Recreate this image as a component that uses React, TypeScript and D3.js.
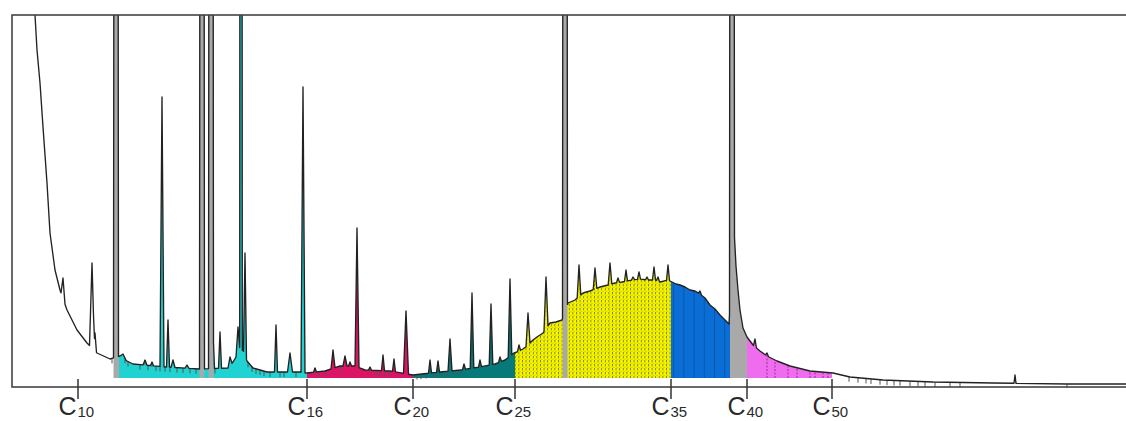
import React from "react";
import * as d3 from "d3";

const W = 1126;
const H = 421;

// unresolved envelope of the trace: [retention, response]
const envelope: [number, number][] = [
  [22, 528], [24, 363], [26, 328], [29, 295], [32, 251], [36, 195], [39, 145], [44, 108],
  [49, 88], [56, 68], [66, 48], [76, 35], [86, 25], [99, 19], [109, 22], [116, 17],
  [122, 14], [156, 11], [189, 9], [217, 10], [222, 16], [228, 26], [232, 28], [236, 17],
  [242, 10], [256, 6], [289, 6], [296, 5], [314, 7], [329, 12], [344, 12], [354, 8],
  [379, 7], [402, 3], [429, 6], [449, 8], [469, 11], [484, 14], [494, 18], [503, 25],
  [506, 26], [512, 29], [516, 32], [522, 38], [526, 41], [532, 45], [539, 55], [545, 56],
  [551, 58], [557, 75], [564, 78], [572, 85], [579, 87], [589, 91], [597, 93], [604, 95],
  [611, 96], [621, 98], [629, 99], [636, 98], [644, 98], [649, 96], [657, 98], [661, 96],
  [665, 94], [669, 93], [674, 91], [679, 88], [684, 87], [689, 84], [694, 80], [699, 73],
  [704, 69], [709, 63], [714, 58], [718, 54], [723, 150], [725, 112], [727, 88], [729, 68],
  [732, 50], [736, 41], [742, 33], [749, 27], [756, 22], [766, 17], [779, 12], [799, 7],
  [822, 5], [839, 1], [872, -2], [922, -4], [982, -5], [1056, -6], [1119, -6],
];

// resolved peaks: [retention, apex response, half width at base]
const peaks: [number, number, number][] = [
  [52, 100, 2], [81, 115, 2.5], [84, 45, 1.5], [105, 3000, 2.5], [112, 24, 3], [134, 18, 2],
  [141, 16, 1.5], [151, 281, 2], [157, 58, 1.5], [162, 18, 2], [176, 13, 2], [191, 3000, 2.5],
  [200, 3000, 2.5], [202, 48, 1.5], [209, 46, 1.5], [219, 21, 2], [227, 51, 2], [230, 3000, 1.3],
  [234, 125, 1.5], [265, 53, 1.5], [279, 25, 2.5], [292, 291, 2], [304, 10, 1.5], [322, 28, 2],
  [334, 22, 2], [339, 16, 1.5], [346, 150, 2], [359, 11, 1.5], [372, 23, 1.5], [383, 19, 1.5],
  [395, 67, 2.5], [419, 18, 1.5], [427, 17, 1.5], [439, 39, 2], [453, 14, 1.5], [461, 85, 1.8],
  [469, 18, 1.5], [480, 74, 1.8], [489, 21, 1.5], [499, 99, 1.8], [508, 33, 1.5], [517, 65, 2],
  [535, 101, 2], [554, 3000, 2.5], [568, 113, 1.8], [584, 110, 1.8], [599, 115, 1.8],
  [607, 100, 1.5], [615, 108, 1.5], [622, 101, 1.5], [628, 106, 1.5], [636, 101, 1.5],
  [643, 111, 1.5], [647, 101, 1.5], [657, 113, 1.5], [689, 87, 1.5], [721, 3000, 2.5],
  [744, 39, 1.5], [756, 25, 1.5], [1004, 3, 1],
];

// integrated carbon ranges: [start, end, fill]
const regions: [number, number, string][] = [
  [108, 296, "#20d2d2"],
  [296, 402, "#dc1466"],
  [402, 504, "#057a78"],
  [504, 660, "url(#hatchYellow)"],
  [660, 719, "url(#hatchBlue)"],
  [719, 736, "#a9a9a9"],
  [736, 821, "#ef6cef"],
];
// internal standards, shaded grey
const standards: [number, number][] = [
  [102.5, 108], [188.5, 193.5], [197.5, 202.5], [551.5, 556.5],
];

const carbonNumbers = ["10", "16", "20", "25", "35", "40", "50"];
const carbonTimes = [67, 296, 402, 504, 660, 736, 821];

const eventMarks = [
  101, 106, 114, 117, 129, 134, 137, 141, 145, 149, 154, 159, 166, 172, 179, 185, 204, 237,
  241, 245, 249, 253, 259, 269, 273, 285, 304, 307, 314, 330, 359, 365, 369, 374, 378, 406,
  410, 415, 424, 431, 436, 442, 449, 838, 847, 855, 860, 869, 876, 883, 889, 899, 907, 914,
  924, 939, 949, 1056,
];
const dropLines = [756, 764, 777, 786, 799, 804, 812, 817];

const x = d3.scaleLinear().domain([0, 1115]).range([11, 1126]);
const y = d3.scaleLinear().domain([0, 363]).range([378, 15]);

const envAt = d3
  .scaleLinear()
  .domain(envelope.map((d) => d[0]))
  .range(envelope.map((d) => d[1]))
  .clamp(true);

function signal(t: number) {
  let v = envAt(t);
  for (const [pt, apex, w] of peaks) {
    const d = Math.abs(t - pt);
    if (d < w) v += (apex - envAt(pt)) * (1 - d / w);
  }
  return v;
}

const times = new Set<number>();
envelope.forEach((d) => times.add(d[0]));
peaks.forEach(([t, , w]) => {
  times.add(t - w);
  times.add(t);
  times.add(t + w);
});
const trace: [number, number][] = Array.from(times)
  .sort((a, b) => a - b)
  .map((t) => [t, signal(t)]);

const line = d3
  .line<[number, number]>()
  .x((d) => x(d[0]))
  .y((d) => y(d[1]));
const area = d3
  .area<[number, number]>()
  .x((d) => x(d[0]))
  .y0(y(0))
  .y1((d) => y(d[1]));

const font = "Arial, 'Liberation Sans', Helvetica, sans-serif";

export default function App() {
  const areaPath = area(trace) || "";
  return (
    <svg
      width={W}
      height={H}
      style={{ position: "absolute", left: 0, top: 0, background: "#fff" }}
    >
      <defs>
        <clipPath id="plot">
          <rect x={12} y={15} width={W} height={373} />
        </clipPath>
        {regions.map(([a, b], i) => (
          <clipPath id={"reg" + i} key={i}>
            <rect x={x(a)} y={15} width={x(b) - x(a)} height={y(0) - 15} />
          </clipPath>
        ))}
        {standards.map(([a, b], i) => (
          <clipPath id={"std" + i} key={i}>
            <rect x={x(a)} y={15} width={x(b) - x(a)} height={y(0) - 15} />
          </clipPath>
        ))}
        <pattern id="hatchYellow" width={3.6} height={4} patternUnits="userSpaceOnUse">
          <rect width={3.6} height={4} fill="#f4f400" />
          <rect x={0} y={0} width={0.9} height={2.4} fill="#5a5a10" opacity={0.75} />
          <rect x={0.9} y={3} width={1.6} height={0.7} fill="#5a5a10" opacity={0.35} />
        </pattern>
        <pattern id="hatchBlue" width={10.2} height={6} patternUnits="userSpaceOnUse">
          <rect width={10.2} height={6} fill="#0a6ed6" />
          <rect x={0} y={0} width={1} height={6} fill="#0550a0" opacity={0.8} />
        </pattern>
      </defs>

      <g clipPath="url(#plot)">
        {regions.map(([, , fill], i) => (
          <path key={i} d={areaPath} fill={fill} clipPath={`url(#reg${i})`} />
        ))}
        {standards.map((_, i) => (
          <path key={i} d={areaPath} fill="#a9a9a9" clipPath={`url(#std${i})`} />
        ))}
        {dropLines.map((t, i) => (
          <line
            key={i}
            x1={x(t)}
            x2={x(t)}
            y1={y(0)}
            y2={y(signal(t))}
            stroke="#9a2c96"
            strokeWidth={1}
            strokeDasharray="2,1.5"
          />
        ))}
        {eventMarks.map((t, i) => (
          <line
            key={i}
            x1={x(t)}
            x2={x(t)}
            y1={y(signal(t))}
            y2={y(signal(t)) + 5}
            stroke="#555"
            strokeWidth={1}
          />
        ))}
        <path
          d={line(trace) || ""}
          fill="none"
          stroke="#222"
          strokeWidth={1.35}
          strokeLinejoin="round"
        />
      </g>

      <rect x={12} y={15} width={W} height={372} fill="none" stroke="#444" strokeWidth={1.6} />

      {carbonTimes.map((t, i) => (
        <g key={i} fill="#2a2a2a" fontFamily={font}>
          <line x1={x(t)} x2={x(t)} y1={379} y2={399} stroke="#333" strokeWidth={1.5} />
          <text x={x(t) - 1.5} y={414.5} textAnchor="end" fontSize={25}>
            C
          </text>
          <text x={x(t) - 0.5} y={417} fontSize={15}>
            {carbonNumbers[i]}
          </text>
        </g>
      ))}
    </svg>
  );
}
